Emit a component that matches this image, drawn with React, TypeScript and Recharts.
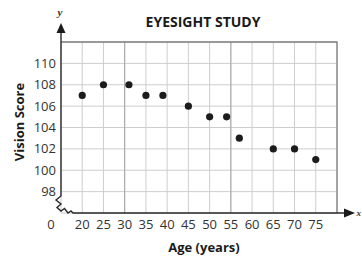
import React from 'react';
import { ScatterChart, Scatter, XAxis, YAxis, CartesianGrid, ReferenceLine } from 'recharts';

const ages = [20, 25, 31, 35, 39, 45, 50, 54, 57, 65, 70, 75];
const scores = [107, 108, 108, 107, 107, 106, 105, 105, 103, 102, 102, 101];

const xTicks = [15, 20, 25, 30, 35, 40, 45, 50, 55, 60, 65, 70, 75, 80];
const xTickLabels = ['0', '20', '25', '30', '35', '40', '45', '50', '55', '60', '65', '70', '75', ''];
const yTicks = [98, 100, 102, 104, 106, 108, 110, 112];
const yTickLabels = ['98', '100', '102', '104', '106', '108', '110', ''];
const darkGridAges = [30, 55];

const points = ages.map((age, i) => ({ age, score: scores[i] }));

const FONT = '"Open Sans", "Noto Sans", sans-serif';

const XTick = ({ x, y, payload }: any) => {
    const i = xTicks.indexOf(payload.value);
    // the origin label sits left of the axis break
    const shift = payload.value === 15 ? -10 : 0;
    return (
        <text x={x + shift} y={y} dy="0.71em" textAnchor="middle" fontSize={13} fill="#333" fontFamily={FONT}>
            {xTickLabels[i]}
        </text>
    );
};

const YTick = ({ x, y, payload }: any) => {
    const i = yTicks.indexOf(payload.value);
    return (
        <text x={x} y={y} dy="0.355em" textAnchor="end" fontSize={13} fill="#333" fontFamily={FONT}>
            {yTickLabels[i]}
        </text>
    );
};

const Dot = (p: any) => <circle cx={p.cx} cy={p.cy} r={3.6} fill="#1c1c1c" />;

export default function App() {
    return (
        <div style={{ position: 'absolute', left: 0, top: 0, width: 362, height: 259, background: '#fff' }}>
            <ScatterChart width={362} height={259} margin={{ top: 42, right: 25, bottom: 26, left: 0 }}>
                <CartesianGrid stroke="#cdcdcd" strokeWidth={1} />
                <XAxis
                    type="number"
                    dataKey="age"
                    domain={[15, 80]}
                    ticks={xTicks}
                    interval={0}
                    height={20}
                    tickLine={false}
                    axisLine={false}
                    tickSize={0}
                    tickMargin={7}
                    tick={<XTick />}
                />
                <YAxis
                    type="number"
                    dataKey="score"
                    domain={[96, 112]}
                    ticks={yTicks}
                    interval={0}
                    width={61}
                    tickLine={false}
                    axisLine={false}
                    tickSize={0}
                    tickMargin={5}
                    tick={<YTick />}
                />
                {darkGridAges.map(a => (
                    <ReferenceLine key={a} x={a} stroke="#a6a6a6" strokeWidth={1} />
                ))}
                <Scatter data={points} shape={<Dot />} isAnimationActive={false} />
            </ScatterChart>
            <svg width={362} height={259} style={{ position: 'absolute', left: 0, top: 0, pointerEvents: 'none' }}>
                {/* plot frame */}
                <path d="M61,42 H337 V213" fill="none" stroke="#808080" strokeWidth={1.3} />
                {/* y axis with arrow and break */}
                <path d="M61,32 V196 L56,200 L61,204 L57,207.5 L61,211 L64.5,208.5 L68,213 L71,211 L73,213 H345" fill="none" stroke="#2a2a2a" strokeWidth={1.4} />
                <path d="M61,23 L56.5,33 L65.5,33 Z" fill="#1a1a1a" />
                <path d="M355,213 L344,208.5 L344,217.5 Z" fill="#1a1a1a" />
                <text x={60} y={16} textAnchor="middle" fontSize={11} fontStyle="italic" fontWeight="bold" fontFamily="'Liberation Serif', serif" fill="#333">y</text>
                <text x={356.5} y={216} textAnchor="start" fontSize={9} fontStyle="italic" fontWeight="bold" fontFamily="'Liberation Serif', serif" fill="#333">x</text>
                <text x={203} y={27} textAnchor="middle" fontSize={14} fontWeight="bold" fontFamily={FONT} fill="#1a1a1a">EYESIGHT STUDY</text>
                <text x={0} y={0} transform="translate(24,122) rotate(-90)" textAnchor="middle" fontSize={13} fontWeight="bold" fontFamily={FONT} fill="#1a1a1a">Vision Score</text>
                <text x={204} y={252} textAnchor="middle" fontSize={13} fontWeight="bold" fontFamily={FONT} fill="#1a1a1a">Age (years)</text>
            </svg>
        </div>
    );
}
